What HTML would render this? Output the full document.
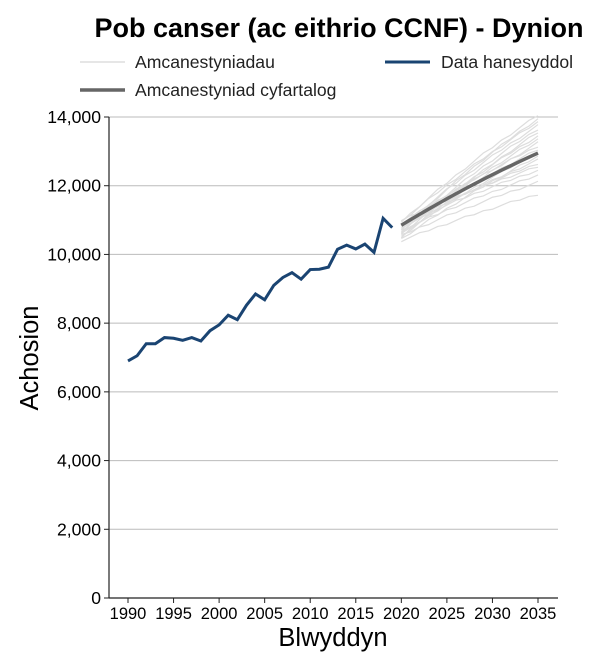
<!DOCTYPE html>
<html><head><meta charset="utf-8"><style>
body{margin:0;background:#fff;font-family:"Liberation Sans",sans-serif}
</style></head><body>
<svg id="s" width="600" height="667" xmlns="http://www.w3.org/2000/svg" font-family="Liberation Sans, sans-serif">
<text x="339" y="37" font-size="27" font-weight="bold" text-anchor="middle">Pob canser (ac eithrio CCNF) - Dynion</text>
<line x1="80" y1="62" x2="125" y2="62" stroke="#ddd" stroke-width="1.5"/>
<text x="135" y="68" font-size="17.6" fill="#222">Amcanestyniadau</text>
<line x1="80" y1="90" x2="125" y2="90" stroke="#666" stroke-width="3.5"/>
<text x="135" y="96" font-size="17.6" fill="#222">Amcanestyniad cyfartalog</text>
<line x1="385" y1="62" x2="430" y2="62" stroke="#1a4472" stroke-width="3"/>
<text x="441" y="68" font-size="17.6" fill="#222">Data hanesyddol</text>
<g id="g"></g>
<line x1="109" y1="117" x2="109" y2="598" stroke="#222" stroke-width="1.2"/>
<line x1="109" y1="598" x2="558" y2="598" stroke="#222" stroke-width="1.2"/>
<text transform="translate(38,358) rotate(-90)" font-size="25.5" text-anchor="middle">Achosion</text>
<text x="333" y="646" font-size="25.5" text-anchor="middle">Blwyddyn</text>
</svg>
<script>
const g=document.getElementById('g');let h='';
const X=y=>128+(y-1990)*9.111, Y=v=>598-v*0.034357;
for(let v=0;v<=14000;v+=2000){const y=Y(v);
 if(v>0)h+=`<line x1="109" y1="${y}" x2="558" y2="${y}" stroke="#bbb" stroke-width="1"/>`;
 h+=`<line x1="104" y1="${y}" x2="109" y2="${y}" stroke="#222"/>`;
 h+=`<text x="101" y="${y+6}" font-size="17.6" text-anchor="end">${v.toLocaleString('en-US')}</text>`;}
for(let yr=1990;yr<=2035;yr+=5){const x=X(yr);
 h+=`<line x1="${x}" y1="598" x2="${x}" y2="603" stroke="#222"/><text x="${x}" y="619" font-size="16.5" text-anchor="middle">${yr}</text>`;}
const starts=[10400,10450,10500,10550,10600,10650,10700,10750,10800,10850,10900,10950,11000,10500,10700,10850,10600,10950,10750,10650];
const ends=[11750,12100,12300,12450,12550,12650,12750,12850,12950,13050,13150,13250,13350,13450,13550,13650,13750,13850,13950,14050];
for(let i=0;i<20;i++){let s=starts[i],e=ends[(i*7)%20],p=[];
 for(let yr=2020;yr<=2035;yr++){const t=(yr-2020)/15;const v=s+(e-s)*(t+0.15*t*(1-t))+ (((i*13+yr*7)%5)-2)*15;p.push(X(yr)+','+Y(v));}
 h+=`<polyline points="${p.join(' ')}" fill="none" stroke="#ddd" stroke-width="1.2"/>`;}
let p=[];for(let yr=2020;yr<=2035;yr++){const t=(yr-2020)/15;p.push(X(yr)+','+Y(10850+2100*(t+0.15*t*(1-t))));}
h+=`<polyline points="${p.join(' ')}" fill="none" stroke="#666" stroke-width="3.5"/>`;
const d=[6900,7050,7400,7400,7580,7560,7500,7580,7480,7780,7950,8230,8100,8520,8850,8680,9100,9330,9470,9280,9560,9570,9630,10150,10270,10160,10300,10060,11050,10780];
h+=`<polyline points="${d.map((v,i)=>X(1990+i)+','+Y(v)).join(' ')}" fill="none" stroke="#1a4472" stroke-width="3"/>`;
g.innerHTML=h;
</script>
</body></html>
